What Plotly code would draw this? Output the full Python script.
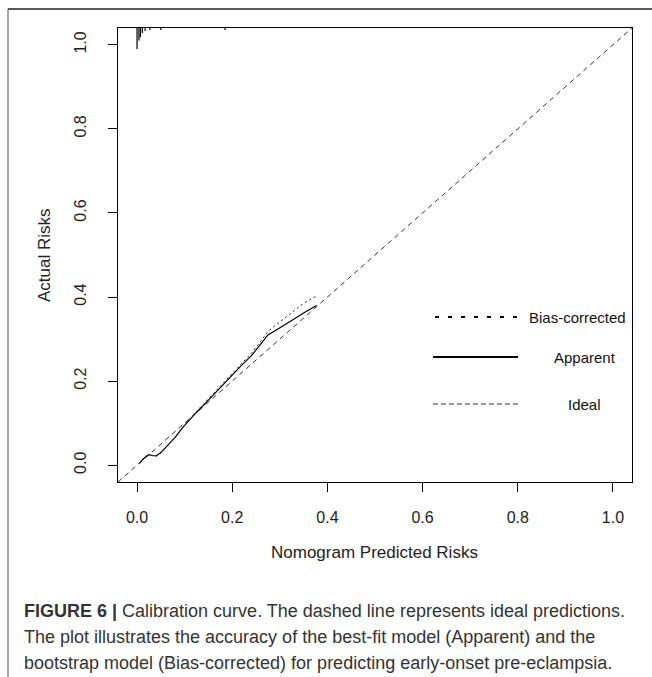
import plotly.graph_objects as go

# ---- data ----
ideal_x = [-0.04, 1.04]
ideal_y = [-0.04, 1.04]

apparent_x = [0.005, 0.012, 0.020, 0.025, 0.032, 0.040, 0.050, 0.065, 0.080, 0.095, 0.110,
              0.125, 0.140, 0.160, 0.180, 0.200, 0.220, 0.240, 0.260, 0.275, 0.290, 0.310,
              0.330, 0.350, 0.365, 0.377]
apparent_y = [0.004, 0.014, 0.022, 0.025, 0.023, 0.022, 0.030, 0.048, 0.066, 0.088, 0.108,
              0.126, 0.143, 0.167, 0.190, 0.214, 0.238, 0.260, 0.288, 0.310, 0.320, 0.335,
              0.348, 0.362, 0.372, 0.380]

bias_x = apparent_x
bias_y = [0.004, 0.013, 0.021, 0.024, 0.022, 0.021, 0.029, 0.047, 0.066, 0.089, 0.109,
          0.128, 0.146, 0.170, 0.193, 0.218, 0.243, 0.266, 0.295, 0.318, 0.332, 0.350,
          0.368, 0.385, 0.395, 0.402]

# distribution of predicted risks (spikes hanging from the top)
spike_x = [0.000, 0.004, 0.007, 0.011, 0.017, 0.027, 0.050, 0.185]
spike_len = [0.050, 0.030, 0.022, 0.012, 0.007, 0.005, 0.005, 0.005]

x_ticks = [0.0, 0.2, 0.4, 0.6, 0.8, 1.0]
y_ticks = [0.0, 0.2, 0.4, 0.6, 0.8, 1.0]
tick_labels = ["0.0", "0.2", "0.4", "0.6", "0.8", "1.0"]

legend_names = ["Bias-corrected", "Apparent", "Ideal"]

# ---- figure ----
W, H = 652, 677
L, R, T, B = 118, 20, 28, 195
PW, PH = W - L - R, H - T - B
FONT = "Liberation Sans, Arial, sans-serif"


def px(xp):
    return (xp - L) / PW


def py(yp):
    return (H - B - yp) / PH


fig = go.Figure()

top = 1.04
sx, sy = [], []
for xv, ln in zip(spike_x, spike_len):
    sx += [xv, xv, None]
    sy += [top, top - ln, None]
fig.add_trace(go.Scatter(x=sx, y=sy, mode="lines", line=dict(color="black", width=1.2),
                         hoverinfo="skip", showlegend=False))

fig.add_trace(go.Scatter(x=ideal_x, y=ideal_y, mode="lines",
                         line=dict(color="#333333", width=1, dash="5px,4px"), showlegend=False))
fig.add_trace(go.Scatter(x=apparent_x, y=apparent_y, mode="lines",
                         line=dict(color="black", width=1.2), showlegend=False))
fig.add_trace(go.Scatter(x=bias_x, y=bias_y, mode="lines",
                         line=dict(color="#222222", width=1, dash="2px,3px"), showlegend=False))

# legend (manual, in pixel positions)
shapes = []
leg = [
    (317, 435, 522, dict(color="black", width=2.2, dash="4px,9px"), 527, "left"),
    (357, 433, 518, dict(color="black", width=2.2), 585, "center"),
    (404, 433, 520, dict(color="#333333", width=1, dash="5px,3px"), 584, "center"),
]
annotations = []
for (yy, x0, x1, ln, tx, anc), name in zip(leg, legend_names):
    shapes.append(dict(type="line", xref="paper", yref="paper", x0=px(x0), x1=px(x1),
                       y0=py(yy), y1=py(yy), line=ln))
    annotations.append(dict(xref="paper", yref="paper", x=px(tx), y=py(yy), text=name,
                            showarrow=False, xanchor=anc, yanchor="middle",
                            font=dict(family=FONT, size=15, color="#111111")))

# page frame lines
shapes.append(dict(type="line", xref="paper", yref="paper", x0=px(8), x1=px(8),
                   y0=py(9), y1=py(H + 5), line=dict(color="#8a8a8a", width=1.5)))
shapes.append(dict(type="line", xref="paper", yref="paper", x0=px(8), x1=px(W + 5),
                   y0=py(9), y1=py(9), line=dict(color="#222222", width=1.5)))

# axis titles
annotations.append(dict(xref="paper", yref="paper", x=px(374), y=py(552),
                        text="Nomogram Predicted Risks", showarrow=False,
                        xanchor="center", yanchor="middle",
                        font=dict(family=FONT, size=17, color="#222222")))
annotations.append(dict(xref="paper", yref="paper", x=px(44), y=py(255),
                        text="Actual Risks", showarrow=False, textangle=-90,
                        xanchor="center", yanchor="middle",
                        font=dict(family=FONT, size=17, color="#222222")))

# caption
cap = ["<b>FIGURE 6 |</b> Calibration curve. The dashed line represents ideal predictions.",
       "The plot illustrates the accuracy of the best-fit model (Apparent) and the",
       "bootstrap model (Bias-corrected) for predicting early-onset pre-eclampsia."]
for i, line in enumerate(cap):
    annotations.append(dict(xref="paper", yref="paper", x=px(22), y=py(611 + 26 * i),
                            text=line, showarrow=False, xanchor="left", yanchor="middle",
                            font=dict(family=FONT, size=18, color="#333333")))

axis_common = dict(range=[-0.04, 1.04], showgrid=False, zeroline=False, showline=True,
                   linecolor="black", linewidth=1, mirror=True, ticks="outside",
                   ticklen=9, tickcolor="black", tickwidth=1,
                   tickfont=dict(family=FONT, size=16, color="#222222"))

fig.update_layout(
    width=W, height=H, margin=dict(l=L, r=R, t=T, b=B),
    paper_bgcolor="white", plot_bgcolor="white",
    xaxis=dict(**axis_common, tickvals=x_ticks, ticktext=tick_labels, ticklabelstandoff=12),
    yaxis=dict(**axis_common, tickvals=y_ticks, ticktext=tick_labels, tickangle=-90,
               ticklabelstandoff=16),
    shapes=shapes, annotations=annotations, showlegend=False,
)

fig.write_html("out.html", config={"displayModeBar": False},
               post_script="document.body.style.margin='0px';")
